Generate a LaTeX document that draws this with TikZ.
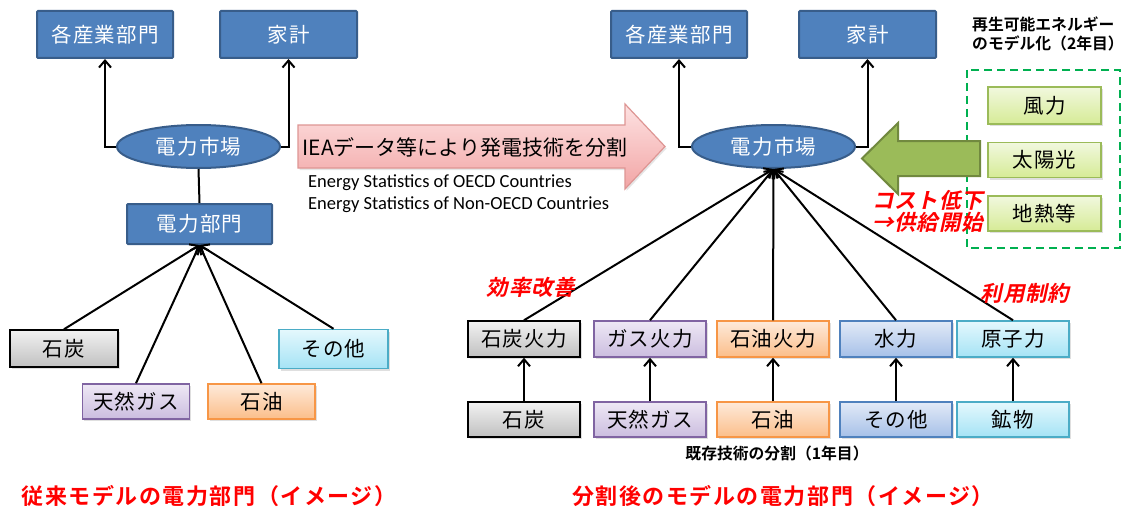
\documentclass[tikz,border=0pt]{standalone}
\usepackage{fontspec}
\setmainfont{Noto Sans CJK JP}
\newfontfamily\boxf{Noto Sans CJK JP}[LetterSpace=6]
\newfontfamily\cjkb{Noto Sans CJK JP Bold}
\newfontfamily\cjkbt{Noto Sans CJK JP Bold}[LetterSpace=7]
\newfontfamily\cjkbi{Noto Sans CJK JP Bold}[FakeSlant=0.22,LetterSpace=4]
\newfontfamily\eng{Carlito}
\usetikzlibrary{arrows.meta,shapes.geometric,shadows}
\definecolor{bfill}{RGB}{79,129,189}
\definecolor{bdraw}{RGB}{56,93,138}
\definecolor{gtop}{RGB}{242,242,242}\definecolor{gbot}{RGB}{192,192,192}
\definecolor{ptop}{RGB}{238,232,245}\definecolor{pbot}{RGB}{203,189,223}\definecolor{pdraw}{RGB}{128,100,162}
\definecolor{otop}{RGB}{254,234,218}\definecolor{obot}{RGB}{251,190,138}\definecolor{odraw}{RGB}{247,150,70}
\definecolor{ctop}{RGB}{228,248,253}\definecolor{cbot}{RGB}{165,227,245}\definecolor{cdraw}{RGB}{75,172,198}
\definecolor{ltop}{RGB}{226,234,247}\definecolor{lbot}{RGB}{166,192,232}\definecolor{ldraw}{RGB}{79,129,189}
\definecolor{ngtop}{RGB}{241,248,222}\definecolor{ngbot}{RGB}{214,235,150}\definecolor{ngdraw}{RGB}{155,187,89}
\definecolor{ptktop}{RGB}{253,226,226}\definecolor{ptkbot}{RGB}{242,165,165}\definecolor{ptkdraw}{RGB}{222,150,148}
\definecolor{garfill}{RGB}{155,187,89}\definecolor{gardraw}{RGB}{113,137,63}
\definecolor{dashg}{RGB}{0,176,80}
\definecolor{redtxt}{RGB}{255,0,0}
\tikzset{
  bluebox/.style={draw=bdraw, fill=bfill, line width=2pt, text=white,
    font=\boxf\fontsize{20.5}{24}\selectfont, inner sep=0pt, rounded corners=1pt},
  bluemk/.style={ellipse, draw=bdraw, fill=bfill, line width=2pt, text=white,
    font=\boxf\fontsize{20.5}{24}\selectfont, inner sep=0pt},
  srcbox/.style={line width=1.5pt, inner sep=0pt, font=\boxf\fontsize{20.5}{24}\selectfont,
    drop shadow={shadow xshift=1.5pt, shadow yshift=-2pt, opacity=0.25}},
  coalbox/.style={srcbox, draw=black, top color=gtop, bottom color=gbot},
  gasbox/.style={srcbox, draw=pdraw, top color=ptop, bottom color=pbot},
  oilbox/.style={srcbox, draw=odraw, top color=otop, bottom color=obot},
  cyanbox/.style={srcbox, draw=cdraw, top color=ctop, bottom color=cbot},
  lbluebox/.style={srcbox, draw=ldraw, top color=ltop, bottom color=lbot},
  greenbox/.style={srcbox, draw=ngdraw, top color=ngtop, bottom color=ngbot},
  arr/.style={line width=2pt, -{Straight Barb[length=7pt,width=12pt]}},
  ln/.style={line width=2pt},
  redlab/.style={text=redtxt, font=\cjkbi\fontsize{21.5}{22}\selectfont, inner sep=0pt},
  blklab/.style={text=black, font=\cjkb\fontsize{15.8}{19}\selectfont, inner sep=0pt},
  title/.style={text=redtxt, font=\cjkbt\fontsize{22}{25}\selectfont, inner sep=0pt},
}
\begin{document}
\begin{tikzpicture}[x=1pt,y=-1pt]
\fill[white] (0,0) rectangle (1123,508);
\useasboundingbox (0,0) rectangle (1123,508);

% ---------------- left diagram ----------------
\node[bluebox, minimum width=136, minimum height=47] (ind1) at (105,34.5) {各産業部門};
\node[bluebox, minimum width=137, minimum height=47] (home1) at (288.5,34.5) {家計};
\node[bluemk, minimum width=163, minimum height=43] (mk1) at (198.5,146.5) {電力市場};
\node[bluebox, minimum width=145, minimum height=40] (dep1) at (199.5,224) {電力部門};

\node[coalbox, minimum width=108, minimum height=37] (coalL) at (64,348.5) {石炭};
\node[gasbox, minimum width=107, minimum height=35] (gasL) at (136,401.5) {天然ガス};
\node[oilbox, minimum width=107, minimum height=35] (oilL) at (261.5,401.5) {石油};
\node[cyanbox, minimum width=109, minimum height=39] (othL) at (333.5,349) {その他};

\draw[arr] (mk1.west) -| (ind1.south);
\draw[arr] (mk1.east) -| (home1.south);
\draw[ln] (mk1.south) -- (dep1.north);
\draw[arr] (coalL.north) -- (dep1.south);
\draw[arr] (gasL.north) -- (dep1.south);
\draw[arr] (oilL.north) -- (dep1.south);
\draw[arr] (othL.north) -- (dep1.south);

\node[title] (t1) at (209,496) {従来モデルの電力部門（イメージ）};

% ---------------- middle arrow ----------------
\shade[top color=ptktop, bottom color=ptkbot, draw=ptkdraw, line width=1.2pt,
  drop shadow={shadow xshift=1.5pt, shadow yshift=-2pt, opacity=0.2}]
  (298,125) -- (625,125) -- (625,104) -- (665,146.5) -- (625,189) -- (625,168) -- (298,168) -- cycle;
\node[font=\fontsize{21}{25}\selectfont, inner sep=0pt] (iea) at (465,147) {IEAデータ等により発電技術を分割};
\node[font=\eng\fontsize{18.5}{22}\selectfont, align=left, inner sep=0pt, anchor=west] (src1) at (308,183)
  {Energy Statistics of OECD Countries};
\node[font=\eng\fontsize{18.5}{22}\selectfont, align=left, inner sep=0pt, anchor=west] (src2) at (308,205)
  {Energy Statistics of Non-OECD Countries};

% ---------------- right diagram ----------------
\node[bluebox, minimum width=136, minimum height=47] (ind2) at (679,34.5) {各産業部門};
\node[bluebox, minimum width=137, minimum height=47] (home2) at (867.5,34.5) {家計};
\node[bluemk, minimum width=163, minimum height=43] (mk2) at (773.5,146.5) {電力市場};

\node[coalbox, minimum width=112, minimum height=36] (u1) at (524,339) {石炭火力};
\node[gasbox, minimum width=112, minimum height=36] (u2) at (650,339) {ガス火力};
\node[oilbox, minimum width=112, minimum height=36] (u3) at (773,339) {石油火力};
\node[lbluebox, minimum width=112, minimum height=36] (u4) at (896,339) {水力};
\node[cyanbox, minimum width=112, minimum height=36] (u5) at (1013,339) {原子力};

\node[coalbox, minimum width=112, minimum height=35] (l1) at (524,419.5) {石炭};
\node[gasbox, minimum width=112, minimum height=35] (l2) at (650,419.5) {天然ガス};
\node[oilbox, minimum width=112, minimum height=35] (l3) at (773,419.5) {石油};
\node[lbluebox, minimum width=112, minimum height=35] (l4) at (896,419.5) {その他};
\node[cyanbox, minimum width=112, minimum height=35] (l5) at (1013,419.5) {鉱物};

\draw[arr] (mk2.west) -| (ind2.south);
\draw[arr] (mk2.east) -| (home2.south);
\foreach \i in {1,...,5} {
  \draw[arr] (u\i.north) -- (mk2.south);
  \draw[arr] (l\i.north) -- (u\i.south);
}

% renewables
\draw[dashg, line width=2.8pt, dash pattern=on 8pt off 5pt] (967,70) rectangle (1120,248);
\node[greenbox, minimum width=113, minimum height=37] (wind) at (1044.5,105.5) {風力};
\node[greenbox, minimum width=113, minimum height=35] (solar) at (1044.5,160) {太陽光};
\node[greenbox, minimum width=113, minimum height=35] (geo) at (1044.5,213.5) {地熱等};

\draw[fill=garfill, draw=gardraw, line width=2pt]
  (980,141) -- (898,141) -- (898,123) -- (862,158.5) -- (898,194) -- (898,176) -- (980,176) -- cycle;

\node[blklab, align=left, anchor=north west] (renlab) at (972,17) {再生可能エネルギー\\のモデル化（2年目）};
\node[redlab, align=left, anchor=west] (cost) at (872,211) {コスト低下\\→供給開始};
\node[redlab] (eff) at (531,287) {効率改善};
\node[redlab] (lim) at (1025,293) {利用制約};
\node[blklab] (exist) at (777,453) {既存技術の分割（1年目）};

\node[title] (t2) at (783,496) {分割後のモデルの電力部門（イメージ）};
\end{tikzpicture}
\end{document}
